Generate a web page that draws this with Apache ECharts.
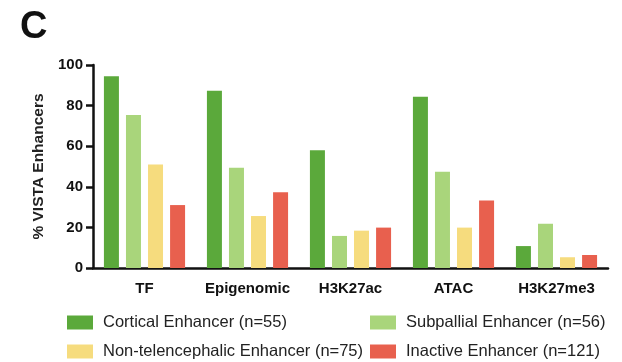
<!DOCTYPE html>
<html>
<head>
<meta charset="utf-8">
<script src="https://cdn.jsdelivr.net/npm/echarts@6/dist/echarts.min.js"></script>
<style>html,body{margin:0;padding:0;background:#fff}#c{width:622px;height:362px}</style>
</head>
<body>
<div id="c"></div>
<script>
const categories = ['TF', 'Epigenomic', 'H3K27ac', 'ATAC', 'H3K27me3'];
const seriesNames = ['Cortical Enhancer (n=55)', 'Subpallial Enhancer (n=56)', 'Non-telencephalic Enhancer (n=75)', 'Inactive Enhancer (n=121)'];
const cortical = [94.5, 87.3, 58, 84.4, 10.8];
const subpallial = [75.4, 49.4, 15.8, 47.4, 21.8];
const nonTel = [51, 25.6, 18.4, 19.9, 5.3];
const inactive = [31, 37.3, 19.9, 33.2, 6.4];
const yTicks = [0, 20, 40, 60, 80, 100];
const colors = ['#5ba93b', '#a9d57b', '#f6dc7e', '#e8604e'];
const values = [cortical, subpallial, nonTel, inactive];

const font = '"Liberation Sans", Arial, Helvetica, sans-serif';
const chart = echarts.init(document.getElementById('c'));
const legendPos = [[67, 314], [370, 314], [67, 343], [370, 343]];
chart.setOption({
  animation: false,
  title: { text: 'C', left: 15, top: 4, textStyle: { fontSize: 38, fontWeight: 'bold', color: '#111', fontFamily: font } },
  legend: seriesNames.map((n, i) => ({
    data: [n], left: legendPos[i][0], top: legendPos[i][1],
    itemWidth: 26, itemHeight: 14, itemGap: 10, padding: 0,
    icon: 'rect',
    textStyle: { fontSize: 16.5, color: '#222', fontFamily: font, padding: [0, 0, 0, 5] },
    selectedMode: false
  })),
  grid: { left: 93, right: 14, top: 65, bottom: 94 },
  xAxis: {
    type: 'category', data: categories,
    axisLine: { lineStyle: { color: '#111', width: 2.5 } },
    axisTick: { alignWithLabel: true, length: 6, lineStyle: { color: '#111', width: 2.5 } },
    axisLabel: { fontSize: 15, fontWeight: 'bold', color: '#111', margin: 13, fontFamily: font, interval: 0 }
  },
  yAxis: {
    type: 'value', min: 0, max: 100, interval: 20,
    name: '% VISTA Enhancers', nameLocation: 'middle', nameGap: 45,
    nameTextStyle: { fontSize: 15.5, fontWeight: 'bold', color: '#222', fontFamily: font },
    axisLine: { show: true, lineStyle: { color: '#111', width: 2.5 } },
    axisTick: { show: true, length: 7, lineStyle: { color: '#111', width: 2.5 } },
    axisLabel: { fontSize: 15, fontWeight: 'bold', color: '#111', margin: 10, fontFamily: font,
      formatter: v => yTicks.includes(v) ? String(v) : '' },
    splitLine: { show: false }
  },
  series: seriesNames.map((n, i) => ({
    name: n, type: 'bar', data: values[i], barWidth: 15, barGap: '47%',
    itemStyle: { color: colors[i] }
  }))
});
</script>
</body>
</html>
